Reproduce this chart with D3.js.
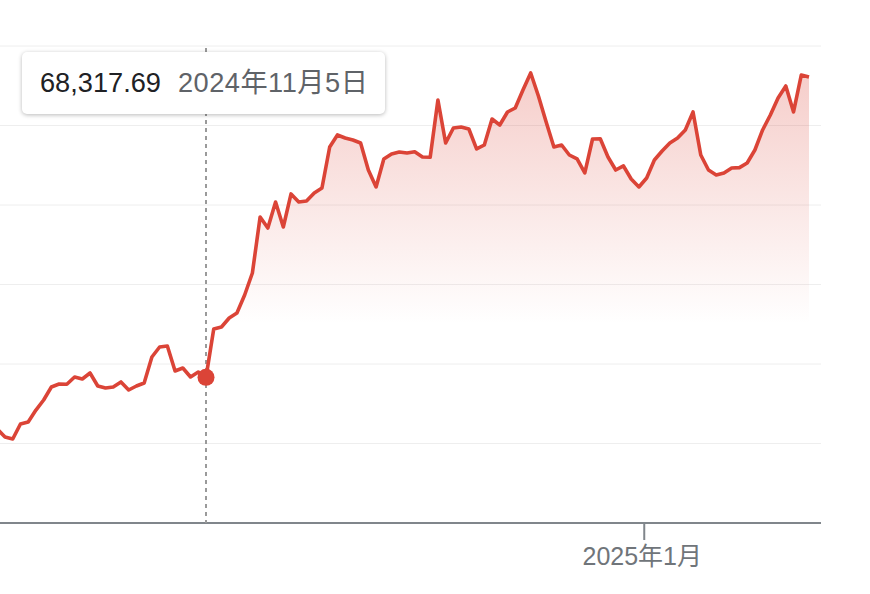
<!DOCTYPE html>
<html>
<head>
<meta charset="utf-8">
<script src="https://cdn.jsdelivr.net/npm/d3@7"></script>
<style>
  html, body { margin: 0; padding: 0; background: #fff; }
  body { width: 870px; height: 594px; overflow: hidden; position: relative;
         font-family: "Liberation Sans", Arial, "Noto Sans CJK JP", sans-serif; }
  #tip { position: absolute; left: 22px; top: 52px; width: 363px; height: 62px;
         background: #fff; border-radius: 5px; box-sizing: border-box;
         box-shadow: 0 1px 4px rgba(0,0,0,0.28); white-space: nowrap;
         font-size: 27.2px; line-height: 62px; padding-left: 18px; }
  #tip .v { color: #202124; }
  #tip .d { color: #5f6368; margin-left: 17px; letter-spacing: 0.5px; }
</style>
</head>
<body>
<svg id="chart" width="870" height="594"></svg>
<div id="tip"><span class="v"></span><span class="d"></span></div>
<script>
// ---- data (daily closes) ----
const startDate = "2024-10-09";
const prices = [
  61820, 60820, 60570, 62450, 62700, 64210, 65470, 67110, 67480, 67450,
  68370, 68110, 68870, 67230, 66980, 67110, 67740, 66730, 67230, 67610,
  70880, 72140, 72270, 69120, 69500, 68370, 68990, 68317.69,
  74400, 74660, 75790, 76420, 78680, 81450, 88490, 87110, 90380, 87230,
  91390, 90380, 90500, 91510, 92140, 97300, 98810, 98430, 98180, 97800,
  94400, 92270, 95790, 96420, 96670, 96540, 96700, 96040, 96000, 103210,
  97800, 99690, 99810, 99560, 97050, 97550, 100820, 100060, 101700, 102200,
  104470, 106610, 103710, 100440, 97300, 97550, 96290, 95790, 94030, 98300,
  98330, 96040, 94400, 94910, 93270, 92270, 93400, 95660, 96790, 97800,
  98430, 99440, 101700, 96290, 94400, 93780, 94030, 94660, 94700, 95280,
  96920, 99440, 101320, 103460, 104970, 101700, 106350, 106100
];
const yTicks = [50000, 60000, 70000, 80000, 90000, 100000, 110000];
const xTickDates = ["2024-12-31T15:00:00Z"];          // 2025年1月1日 0:00 (JST)
const xTickLabels = ["2025年1月"];
const hoverDate = "2024-11-05";
const hoverValue = 68317.69;
const hoverLabel = "2024年11月5日";

const t0 = new Date(startDate + "T00:00:00Z");
const data = prices.map((v, i) => ({ date: new Date(t0.getTime() + i * 864e5), value: v }));
const hoverD = new Date(hoverDate + "T00:00:00Z");

// ---- scales ----
const svg = d3.select("#chart");
const plotRight = 821, baseY = 523;
const x = d3.scaleUtc()
  .domain([hoverD, data[data.length - 1].date])
  .range([206, 809]);
const y = d3.scaleLinear().domain([50000, 110000]).range([baseY, 46]);

// gradient
const defs = svg.append("defs");
const grad = defs.append("linearGradient").attr("id", "fillGrad")
  .attr("gradientUnits", "userSpaceOnUse")
  .attr("x1", 0).attr("x2", 0).attr("y1", y(106000)).attr("y2", y(75000));
grad.append("stop").attr("offset", 0).attr("stop-color", "#db4437").attr("stop-opacity", 0.26);
grad.append("stop").attr("offset", 1).attr("stop-color", "#db4437").attr("stop-opacity", 0);

// gridlines
svg.append("g").selectAll("line").data(yTicks.slice(1)).join("line")
  .attr("x1", 0).attr("x2", plotRight)
  .attr("y1", d => y(d)).attr("y2", d => y(d))
  .attr("stroke", "#eeeeee").attr("stroke-width", 1);

// area to the right of hover
const areaData = data.filter(d => d.date >= hoverD);
svg.append("path").datum(areaData)
  .attr("fill", "url(#fillGrad)")
  .attr("d", d3.area().x(d => x(d.date)).y0(baseY).y1(d => y(d.value)));

// x axis
const xAxis = d3.axisBottom(x)
  .tickValues(xTickDates.map(s => new Date(s)))
  .tickFormat((d, i) => xTickLabels[i])
  .tickSize(17).tickPadding(4);
const gx = svg.append("g").attr("transform", `translate(0,${baseY})`).call(xAxis);
gx.select(".domain").remove();
gx.append("line").attr("x1", 0).attr("x2", plotRight).attr("y1", 0).attr("y2", 0)
  .attr("stroke", "#80868b").attr("stroke-width", 2);
gx.selectAll(".tick line").attr("stroke", "#80868b").attr("stroke-width", 2);
gx.selectAll(".tick text").attr("fill", "#70757a")
  .style("font-size", "25px")
  .style("font-family", '"Liberation Sans", Arial, "Noto Sans CJK JP", sans-serif')
  .attr("dx", "-2px")
  .attr("dy", "0.85em");

// hover dashed line
svg.append("line")
  .attr("x1", x(hoverD)).attr("x2", x(hoverD))
  .attr("y1", 48).attr("y2", baseY)
  .attr("stroke", "#9a9a9a").attr("stroke-width", 2)
  .attr("stroke-dasharray", "4,4");

// line
svg.append("path").datum(data)
  .attr("fill", "none").attr("stroke", "#db4437")
  .attr("stroke-width", 3.6).attr("stroke-linejoin", "round")
  .attr("d", d3.line().x(d => x(d.date)).y(d => y(d.value)));

// hover dot
svg.append("circle")
  .attr("cx", x(hoverD)).attr("cy", y(hoverValue)).attr("r", 8.5)
  .attr("fill", "#db4437");

// tooltip
d3.select("#tip .v").text(d3.format(",.2f")(hoverValue));
d3.select("#tip .d").text(hoverLabel);
</script>
</body>
</html>
